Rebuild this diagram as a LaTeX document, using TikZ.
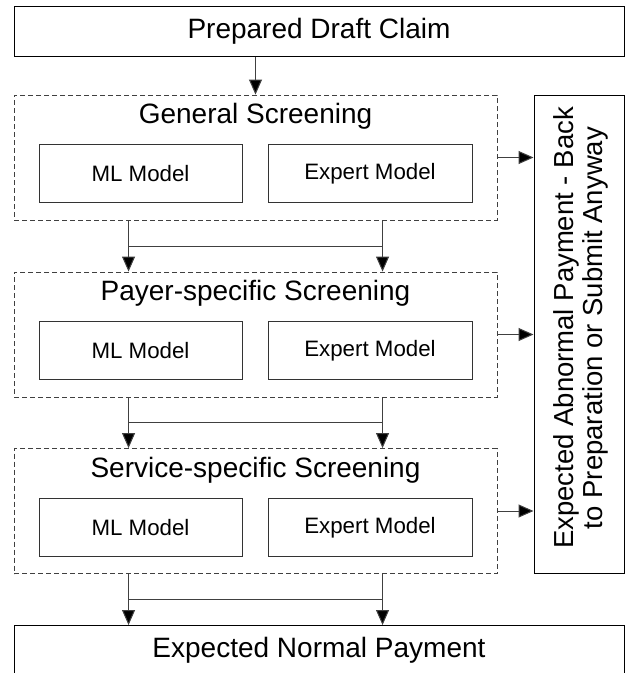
\documentclass[tikz,border=0pt]{standalone}
\usepackage{fontspec}
\setmainfont{Liberation Sans}
\usetikzlibrary{arrows.meta,calc}
\begin{document}
\begin{tikzpicture}[x=1pt,y=-1pt,
  mainbox/.style={draw=black,line width=1pt,rectangle,inner sep=0pt,font=\fontsize{28}{30}\selectfont},
  screenbox/.style={draw=black!75,line width=0.9pt,dash pattern=on 5pt off 3pt,rectangle,inner sep=0pt,minimum width=483pt,minimum height=125pt},
  screentitle/.style={font=\fontsize{28}{30}\selectfont,inner sep=0pt},
  modelbox/.style={draw=black!80,line width=1pt,rectangle,inner sep=0pt,minimum height=58pt,font=\fontsize{22.3}{26}\selectfont},
  arr/.style={draw=black!75,line width=1pt,-{Triangle[length=15pt,width=13pt,fill=black]}},
  conn/.style={draw=black!75,line width=1pt}
]
\useasboundingbox (0,0) rectangle (625,673);
\fill[white] (0,0) rectangle (625,673);

% top box
\node[mainbox,minimum width=610pt,minimum height=50pt] (draft) at (319,31) {Prepared Draft Claim};

% screening boxes
\node[screenbox] (gen) at (255.5,157.5) {};
\node[screentitle] (gent) at (255.5,116) {General Screening};
\node[modelbox,minimum width=203pt] (genml) at (140.5,173.5) {ML Model};
\node[modelbox,minimum width=204pt] (genex) at (370,173.5) {Expert Model};

\node[screenbox] (pay) at (255.5,334.5) {};
\node[screentitle] (payt) at (255.5,293) {Payer-specific Screening};
\node[modelbox,minimum width=203pt] (payml) at (140.5,350.5) {ML Model};
\node[modelbox,minimum width=204pt] (payex) at (370,350.5) {Expert Model};

\node[screenbox] (srv) at (255.5,511) {};
\node[screentitle] (srvt) at (255.5,470) {Service-specific Screening};
\node[modelbox,minimum width=203pt] (srvml) at (140.5,527.5) {ML Model};
\node[modelbox,minimum width=204pt] (srvex) at (370,527.5) {Expert Model};

% abnormal box
\node[mainbox,minimum width=90pt,minimum height=478pt] (abn) at (579,334) {};
\node[rotate=90,align=center,inner sep=0pt,font=\fontsize{27.5}{29}\selectfont] (abnt) at ([xshift=2pt,yshift=6pt]abn.center) {Expected Abnormal Payment - Back\\to Preparation or Submit Anyway};

% normal box (bottom border lies outside the picture)
\node[mainbox,anchor=north,minimum width=610pt,text height=20pt,text depth=60pt,inner ysep=12pt] (norm) at (319,625) {Expected Normal Payment};

% arrows
\draw[arr] (draft.south -| gen.north) -- (gen.north);
\foreach \a/\b in {gen/pay,pay/srv,srv/norm}{
  \draw[arr] ([xshift=115pt]\a.south west) -- ([xshift=115pt]\a.south west |- \b.north);
  \draw[arr] ([xshift=369pt]\a.south west) -- ([xshift=369pt]\a.south west |- \b.north);
  \draw[conn] ($([xshift=115pt]\a.south west)!0.5!([xshift=115pt]\a.south west |- \b.north)$) -- ($([xshift=369pt]\a.south west)!0.5!([xshift=369pt]\a.south west |- \b.north)$);
}
\foreach \a in {gen,pay,srv}{
  \draw[arr] (\a.east) -- (\a.east -| abn.west);
}
\end{tikzpicture}
\end{document}
